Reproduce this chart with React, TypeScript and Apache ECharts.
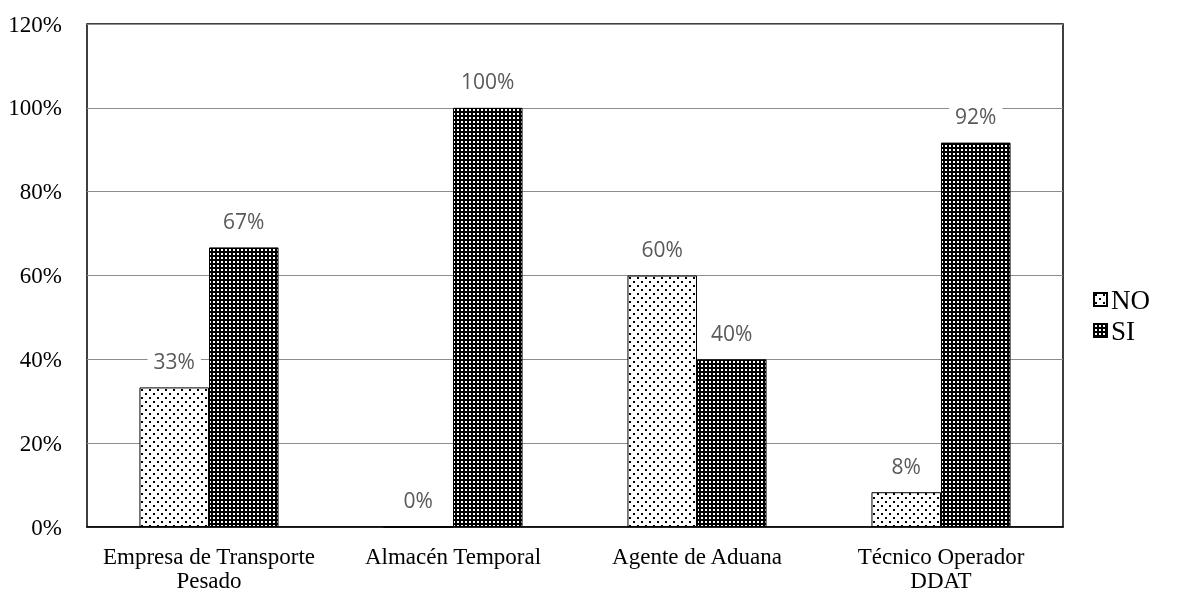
import React, { useEffect, useRef } from "react";
import * as echarts from "echarts";

const categories = ["Empresa de Transporte\nPesado", "Almacén Temporal", "Agente de Aduana", "Técnico Operador\nDDAT"];
const noValues = [33.3, 0, 60, 8.3];
const siValues = [66.7, 100, 40, 91.7];
const yTicks = [0, 20, 40, 60, 80, 100, 120];

function makeNoPattern() {
  const c = document.createElement("canvas");
  c.width = 8; c.height = 8;
  const ctx = c.getContext("2d")!;
  ctx.fillStyle = "#fff";
  ctx.fillRect(0, 0, 8, 8);
  ctx.fillStyle = "#000";
  ctx.fillRect(1, 1, 2, 2);
  ctx.fillRect(5, 5, 2, 2);
  return c;
}
function makeSiPattern() {
  const c = document.createElement("canvas");
  c.width = 4; c.height = 4;
  const ctx = c.getContext("2d")!;
  ctx.fillStyle = "#000";
  ctx.fillRect(0, 0, 4, 4);
  ctx.fillStyle = "#fff";
  ctx.fillRect(1, 1, 2, 2);
  return c;
}

export default function App() {
  const ref = useRef<HTMLDivElement>(null);
  useEffect(() => {
    const chart = echarts.init(ref.current!, null, { renderer: "svg" });
    const noPat = { image: makeNoPattern(), repeat: "repeat" };
    const siPat = { image: makeSiPattern(), repeat: "repeat" };
    const labelCfg = {
      show: true,
      position: "top",
      distance: 15,
      color: "#595959",
      fontFamily: "Open Sans",
      fontSize: 21,
      backgroundColor: "#fff",
      padding: [1, 6],
      formatter: (p: any) => Math.round(p.value) + "%",
    };
    chart.setOption({
      animation: false,
      grid: {
        left: 87, right: 114, top: 24, bottom: 64,
        show: true, borderColor: "#000", borderWidth: 1.5, backgroundColor: "transparent",
      },
      legend: {
        orient: "vertical",
        right: 27,
        top: 286,
        padding: 0,
        itemWidth: 13,
        itemHeight: 13,
        itemGap: 4,
        textStyle: { fontFamily: "Liberation Serif", fontSize: 27, lineHeight: 27, color: "#000", padding: [0, 0, 0, -1] },
        data: [
          { name: "NO", icon: "rect" },
          { name: "SI", icon: "rect" },
        ],
      },
      xAxis: {
        type: "category",
        data: categories,
        axisLine: { lineStyle: { color: "#000", width: 1.5 } },
        axisTick: { show: false },
        axisLabel: { interval: 0, fontFamily: "Liberation Serif", fontSize: 23, color: "#000", margin: 17, lineHeight: 24 },
      },
      yAxis: {
        type: "value",
        min: 0, max: 120, interval: 20,
        axisLine: { show: false },
        axisTick: { show: false },
        splitLine: { lineStyle: { color: "#8c8c8c", width: 1 } },
        axisLabel: {
          fontFamily: "Liberation Serif", fontSize: 23, color: "#000", margin: 25,
          formatter: (v: number) => (yTicks.includes(v) ? v + "%" : ""),
        },
      },
      series: [
        {
          name: "NO", type: "bar", data: noValues, barGap: "0%", barCategoryGap: "43%",
          itemStyle: { color: noPat, borderColor: "#000", borderWidth: 1 },
          label: labelCfg,
        },
        {
          name: "SI", type: "bar", data: siValues, barGap: "0%", barCategoryGap: "43%",
          itemStyle: { color: siPat, borderColor: "#000", borderWidth: 1 },
          label: labelCfg,
        },
      ],
    });
    return () => chart.dispose();
  }, []);
  return <div ref={ref} style={{ position: "fixed", left: 0, top: 0, width: 1177, height: 592 }} />;
}
